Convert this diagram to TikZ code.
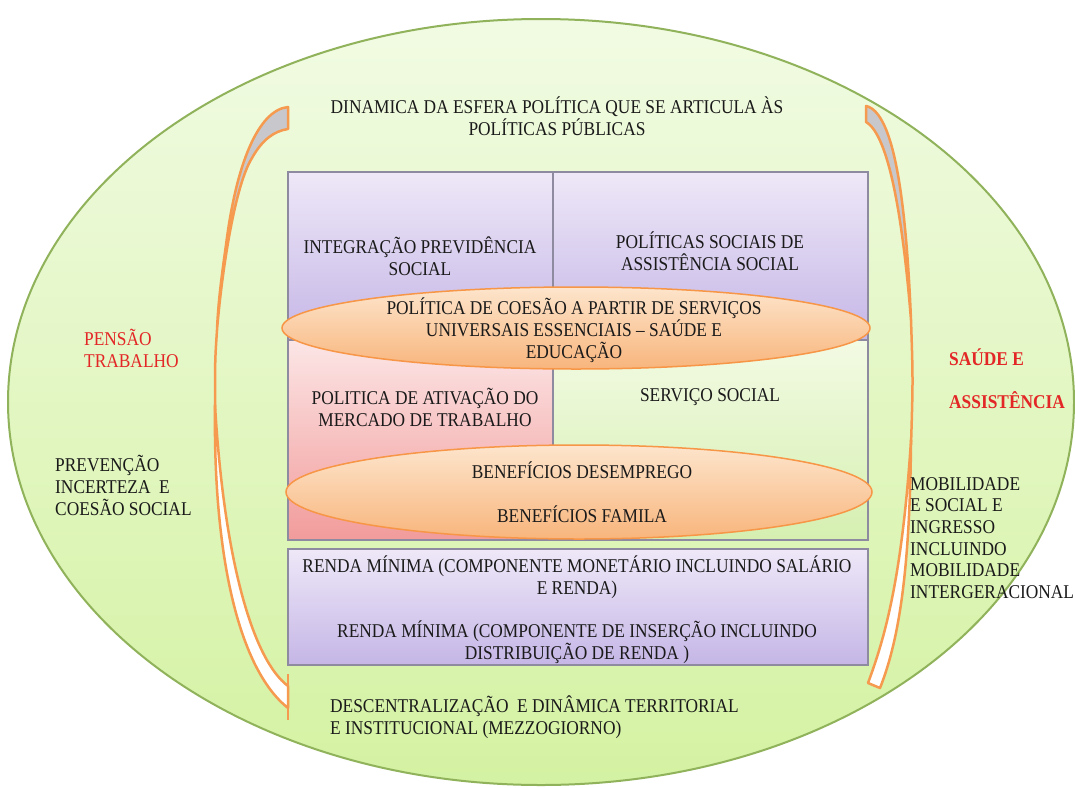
\documentclass[tikz,border=0pt]{standalone}
\usepackage{fontspec}
\setmainfont{Liberation Serif}[FakeStretch=0.89]
\definecolor{bgtop}{HTML}{F1FBE3}
\definecolor{bgbot}{HTML}{D4F2A2}
\definecolor{bgline}{HTML}{8FB25A}
\definecolor{purtop}{HTML}{EEE8F8}
\definecolor{purbot}{HTML}{C5B6E6}
\definecolor{boxline}{HTML}{8E8AA0}
\definecolor{pinktop}{HTML}{FCE6E6}
\definecolor{pinkbot}{HTML}{F29B9B}
\definecolor{greentop}{HTML}{F3FBE4}
\definecolor{greenbot}{HTML}{D5EFB0}
\definecolor{ortop}{HTML}{FDE5CC}
\definecolor{orbot}{HTML}{F8B57C}
\definecolor{orline}{HTML}{F79646}
\definecolor{brk}{HTML}{F59A4E}
\definecolor{brkgray}{HTML}{C8C8CC}
\definecolor{redtxt}{HTML}{E32626}
\definecolor{txtcol}{HTML}{1A1A1A}
\begin{document}
\begin{tikzpicture}[x=1pt,y=-1pt,
  txt/.style={font=\fontsize{19.5}{22}\selectfont, text=txtcol, inner sep=0pt, align=center},
  ltxt/.style={txt, align=left},
  boxframe/.style={draw=boxline, line width=1.2pt},
  bracket/.style={draw=brk, line width=2.5pt, line join=round},
  oval/.style={draw=orline, line width=1.5pt, top color=ortop, bottom color=orbot}]
\useasboundingbox (0,0) rectangle (1075,787);
% outer ellipse
\path[top color=bgtop, bottom color=bgbot] (541,402) ellipse [x radius=533, y radius=383];
\draw[bgline, line width=2pt] (541,402) ellipse [x radius=533, y radius=383];
% left bracket
\path[bracket, fill=brkgray] (288,107) .. controls (258,110) and (236,165) .. (226,245) .. controls (221,280) and (218,305) .. (217,330) .. controls (222,270) and (235,185) .. (252,158) .. controls (262,140) and (274,131) .. (288,129) -- cycle;
\draw[bracket] (217,330) .. controls (215,360) .. (215,410);
\path[bracket, fill=white] (215,405) .. controls (213,560) and (240,670) .. (288,708) -- (288,686) .. controls (253,660) and (224,560) .. (215,405) -- cycle;
\draw[bracket] (288,674) -- (288,720);
% right bracket
\path[bracket, fill=brkgray] (866,106) .. controls (894,112) and (906,200) .. (911,320) .. controls (903,220) and (889,135) .. (866,122) -- cycle;
\draw[bracket] (911,320) .. controls (913,380) .. (911,445);
\path[bracket, fill=white] (911,440) .. controls (910,580) and (897,645) .. (880,688) -- (868,683) .. controls (884,640) and (902,580) .. (911,440) -- cycle;
% boxes
\path[boxframe, top color=purtop, bottom color=purbot] (288,172) rectangle (553,340);
\path[boxframe, top color=purtop, bottom color=purbot] (553,172) rectangle (868,340);
\path[boxframe, top color=pinktop, bottom color=pinkbot] (288,340) rectangle (553,540);
\path[boxframe, top color=greentop, bottom color=greenbot] (553,340) rectangle (868,540);
\path[boxframe, top color=purtop, bottom color=purbot] (288,549) rectangle (868,665);
% orange ovals
\path[oval] (576,328) ellipse [x radius=294, y radius=41];
\path[oval] (579,492) ellipse [x radius=293, y radius=47];
% texts
\node[txt] (top) at (557,116) {DINAMICA DA ESFERA POLÍTICA QUE SE ARTICULA ÀS\\POLÍTICAS PÚBLICAS};
\node[txt] (integ) at (420,256) {INTEGRAÇÃO PREVIDÊNCIA\\SOCIAL};
\node[txt] (polsoc) at (710,251) {POLÍTICAS SOCIAIS DE\\ASSISTÊNCIA SOCIAL};
\node[txt] (coesao) at (574,330) {POLÍTICA DE COESÃO A PARTIR DE SERVIÇOS\\UNIVERSAIS ESSENCIAIS – SAÚDE E\\EDUCAÇÃO};
\node[txt] (ativ) at (425,407) {POLITICA DE ATIVAÇÃO DO\\MERCADO DE TRABALHO};
\node[txt] (servico) at (710,397) {SERVIÇO SOCIAL};
\node[txt] (benef1) at (582,470) {BENEFÍCIOS DESEMPREGO};
\node[txt] (benef2) at (582,514) {BENEFÍCIOS FAMILA};
\node[txt] (renda) at (577,610) {RENDA MÍNIMA (COMPONENTE MONETÁRIO INCLUINDO SALÁRIO\\E RENDA)\\[21pt]RENDA MÍNIMA (COMPONENTE DE INSERÇÃO INCLUINDO\\DISTRIBUIÇÃO DE RENDA )};
\node[ltxt, text=redtxt, anchor=west] (pensao) at (84,348) {PENSÃO\\TRABALHO};
\node[ltxt, anchor=west] (prev) at (55,485) {PREVENÇÃO\\INCERTEZA\ \ E\\COESÃO SOCIAL};
\node[ltxt, text=redtxt, anchor=west, font=\fontsize{19.5}{22}\selectfont\bfseries] (saude) at (949,357) {SAÚDE E};
\node[ltxt, text=redtxt, anchor=west, font=\fontsize{19.5}{22}\selectfont\bfseries] (assist) at (949,400) {ASSISTÊNCIA};
\node[ltxt, anchor=west, font=\fontsize{19.5}{21.6}\selectfont] (mobil) at (910,538) {MOBILIDADE\\E SOCIAL E\\INGRESSO\\INCLUINDO\\MOBILIDADE\\INTERGERACIONAL};
\node[ltxt, anchor=west] (descent) at (330,717) {DESCENTRALIZAÇÃO\ \ E DINÂMICA TERRITORIAL\\E INSTITUCIONAL (MEZZOGIORNO)};
\end{tikzpicture}
\end{document}
